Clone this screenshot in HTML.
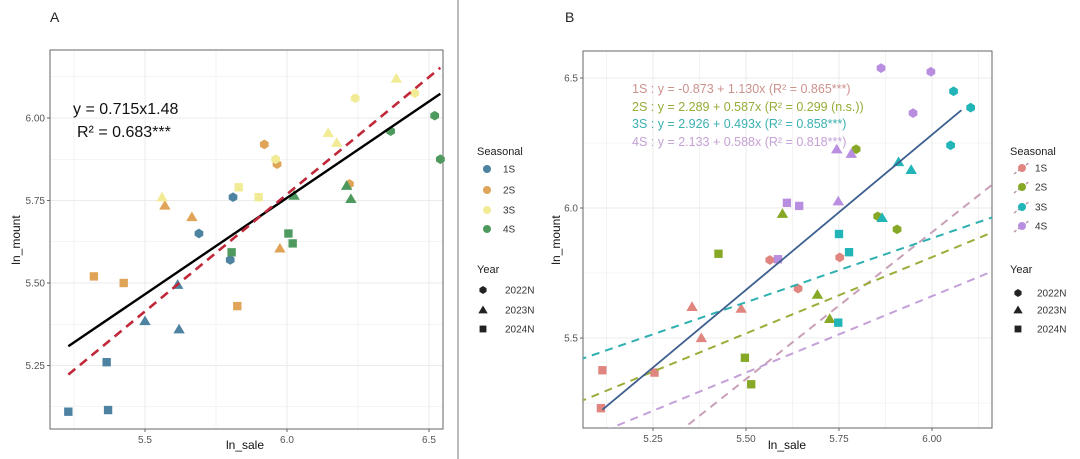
<!DOCTYPE html>
<html><head><meta charset="utf-8"><style>
html,body{margin:0;padding:0;background:#fff;overflow:hidden;width:1080px;height:459px;}
svg{display:block;font-family:"Liberation Sans",sans-serif;overflow:hidden;}
</style></head><body>
<svg id="fig" width="1080" height="459" viewBox="0 0 1080 459">
<rect width="1080" height="459" fill="#fff"/>
<line x1="458" y1="0" x2="458" y2="459" stroke="#777" stroke-width="1"/>
<text x="50" y="22" font-size="14" fill="#222">A</text>
<text x="565" y="22" font-size="14" fill="#222">B</text>
<g id="pa"></g>
<g id="pb"></g>
<text x="245" y="449" font-size="12" text-anchor="middle" fill="#111">ln_sale</text>
<text x="20" y="240" font-size="12" text-anchor="middle" fill="#111" transform="rotate(-90 20 240)">ln_mount</text>
<text x="787" y="449" font-size="12" text-anchor="middle" fill="#111">ln_sale</text>
<text x="560" y="240" font-size="12" text-anchor="middle" fill="#111" transform="rotate(-90 560 240)">ln_mount</text>
<text x="73" y="114" font-size="16" fill="#111">y = 0.715x1.48</text>
<text x="77" y="137" font-size="16" fill="#111">R² = 0.683***</text>
<g font-size="12.5">
<text x="632" y="93" fill="#cc928d">1S : y = -0.873 + 1.130x (R² = 0.865***)</text>
<text x="632" y="111" fill="#93ad36">2S : y = 2.289 + 0.587x (R² = 0.299 (n.s.))</text>
<text x="632" y="128" fill="#3ab0b0">3S : y = 2.926 + 0.493x (R² = 0.858***)</text>
<text x="632" y="146" fill="#c6a2d6">4S : y = 2.133 + 0.588x (R² = 0.818***)</text>
</g>
<g id="lega"></g>
<g id="legb"></g>
</svg>
<script>
const NS="http://www.w3.org/2000/svg";
const seasons=["1S","2S","3S","4S"];
const years=["2022N","2023N","2024N"];
const colorsA=["#4d82a0","#e0a459","#f2eb96","#4e9a5e"];
const colorsB=["#e08580","#86a826","#21b5b8","#b98de0"];
// Panel A data
const aXTicks=[5.5,6.0,6.5];
const aYTicks=[5.25,5.50,5.75,6.00];
const aYLabels=["5.25","5.50","5.75","6.00"];
const aSeason=[0,0,0,0,0,0,0,0,0, 1,1,1,1,1,1,1,1,1, 2,2,2,2,2,2,2,2,2, 3,3,3,3,3,3,3,3,3];
const aYear=[0,0,0,1,1,2,2,2,1, 0,0,0,1,1,1,2,2,2, 1,0,0,1,1,0,2,2,1, 0,0,0,1,1,1,2,2,2];
const aX=[5.81,5.69,5.80,5.50,5.62,5.365,5.23,5.37,5.615, 5.92,5.965,6.22,5.57,5.665,5.975,5.32,5.425,5.825, 6.385,6.45,6.24,6.145,6.175,5.96,5.83,5.90,5.56, 6.52,6.365,6.54,6.21,6.225,6.025,6.005,6.02,5.805];
const aY=[5.76,5.65,5.57,5.385,5.36,5.26,5.11,5.115,5.495, 5.92,5.86,5.80,5.735,5.70,5.605,5.52,5.50,5.43, 6.12,6.075,6.06,5.955,5.925,5.875,5.79,5.76,5.76, 6.007,5.96,5.875,5.795,5.755,5.765,5.65,5.62,5.593];
const aLineSolid=[2.254,0.584];
const aLineDash=[1.509,0.71];
const aLineRange=[5.23,6.54];
// Panel B data
const bXTicks=[5.25,5.50,5.75,6.00];
const bXLabels=["5.25","5.50","5.75","6.00"];
const bYTicks=[5.5,6.0,6.5];
const bSeason=[0,0,0,0,0,0,0,0,0, 1,1,1,1,1,1,1,1,1, 2,2,2,2,2,2,2,2,2, 3,3,3,3,3,3,3,3,3];
const bYear=[2,2,2,1,1,1,0,0,0, 2,2,2,1,1,1,0,0,0, 2,2,2,1,1,1,0,0,0, 2,2,2,1,1,1,0,0,0];
const bX=[5.114,5.11,5.254,5.355,5.38,5.487,5.564,5.64,5.752, 5.426,5.497,5.514,5.598,5.692,5.725,5.796,5.854,5.906, 5.75,5.777,5.748,5.866,5.91,5.944,6.058,6.104,6.05, 5.586,5.61,5.643,5.744,5.748,5.783,5.863,5.997,5.949];
const bY=[5.376,5.23,5.367,5.62,5.50,5.613,5.80,5.69,5.81, 5.824,5.424,5.322,5.978,5.667,5.574,6.226,5.968,5.918, 5.90,5.83,5.559,5.962,6.177,6.147,6.449,6.386,6.241, 5.803,6.02,6.008,6.226,6.026,6.209,6.538,6.524,6.365];
const bIntercepts=[-0.873,2.289,2.926,2.133];
const bSlopes=[1.130,0.587,0.493,0.588];
const bDashColors=["#c9a0b8","#9aae3a","#2fb0b0","#c4a0d8"];
const bLineSolid=[-0.882,1.194];
const bLineRange=[5.114,6.079];

function el(tag,attrs,parent){const e=document.createElementNS(NS,tag);for(const k in attrs)e.setAttribute(k,attrs[k]);parent.appendChild(e);return e;}
function marker(g,shape,cx,cy,col,s){
  let e;
  if(shape===0){const r=s*1.1;e=el("polygon",{points:`${cx},${cy-r} ${cx+r*0.9},${cy-r*0.45} ${cx+r*0.9},${cy+r*0.45} ${cx},${cy+r} ${cx-r*0.9},${cy+r*0.45} ${cx-r*0.9},${cy-r*0.45}`,fill:col},g);}
  else if(shape===1){e=el("polygon",{points:`${cx},${cy-s*1.25} ${cx-s*1.3},${cy+s*0.95} ${cx+s*1.3},${cy+s*0.95}`,fill:col},g);}
  else{e=el("rect",{x:cx-s*0.95,y:cy-s*0.95,width:s*1.9,height:s*1.9,fill:col},g);}
  return e;
}
function panel(g,L,R,T,B,xs,ys,xT,xL,yT,yL,name){
  el("rect",{x:L,y:T,width:R-L,height:B-T,fill:"#fff"},g);
  const gr=el("g",{},g);
  
  
  const dx=xT[1]-xT[0],dy=yT[1]-yT[0];
  for(let i=-1;i<=xT.length;i++){const v=xT[0]+dx*i, vm=v+dx/2;
    [v,vm].forEach((w,j)=>{const p=xs(w);if(p>L&&p<R)el("line",{x1:p,x2:p,y1:T,y2:B,stroke:"#ebebeb","stroke-width":j?0.6:1},gr);});}
  for(let i=-1;i<=yT.length;i++){const v=yT[0]+dy*i, vm=v+dy/2;
    [v,vm].forEach((w,j)=>{const p=ys(w);if(p>T&&p<B)el("line",{x1:L,x2:R,y1:p,y2:p,stroke:"#ebebeb","stroke-width":j?0.6:1},gr);});}
  el("rect",{x:L,y:T,width:R-L,height:B-T,fill:"none",stroke:"#666","stroke-width":1},g);
  xT.forEach((v,i)=>{const t=el("text",{x:xs(v),y:B+14,"font-size":10,"text-anchor":"middle",fill:"#555"},g);t.textContent=xL[i];
    
    
    el("line",{x1:xs(v),x2:xs(v),y1:B,y2:B+3,stroke:"#666"},g);});
  yT.forEach((v,i)=>{const t=el("text",{x:L-5,y:ys(v)+3.5,"font-size":10,"text-anchor":"end",fill:"#555"},g);t.textContent=yL[i];
    
    
    el("line",{x1:L-3,x2:L,y1:ys(v),y2:ys(v),stroke:"#666"},g);});
}
// Panel A
(function(){
  const g=document.getElementById("pa");
  const L=50,R=443,T=50,B=429;
  const xs=v=>145+(v-5.5)*284, ys=v=>118-(v-6.0)*330;
  panel(g,L,R,T,B,xs,ys,aXTicks,aXTicks.map(v=>v.toFixed(1)),aYTicks,aYLabels,"panel-a");
  const pts=el("g",{},g);
  for(let i=0;i<aX.length;i++){const m=marker(pts,aYear[i],xs(aX[i]),ys(aY[i]),colorsA[aSeason[i]],4.4);
    
    }
  const f=(c,x)=>c[0]+c[1]*x;
  const l1=el("line",{x1:xs(aLineRange[0]),y1:ys(f(aLineSolid,aLineRange[0])),x2:xs(aLineRange[1]),y2:ys(f(aLineSolid,aLineRange[1])),stroke:"#000","stroke-width":2.4},g);
  
  
  const l2=el("line",{x1:xs(aLineRange[0]),y1:ys(f(aLineDash,aLineRange[0])),x2:xs(aLineRange[1]),y2:ys(f(aLineDash,aLineRange[1])),stroke:"#c0283a","stroke-width":2.6,"stroke-dasharray":"9,6"},g);
  
  
})();
// Panel B
(function(){
  const g=document.getElementById("pb");
  const L=583,R=992,T=51,B=428;
  const xs=v=>653+(v-5.25)*372, ys=v=>208-(v-6.0)*260;
  panel(g,L,R,T,B,xs,ys,bXTicks,bXLabels,bYTicks,bYTicks.map(v=>v.toFixed(1)),"panel-b");
  const cp=el("clipPath",{id:"cb"},g);el("rect",{x:L,y:T,width:R-L,height:B-T},cp);
  const pts=el("g",{},g);
  for(let i=0;i<bX.length;i++){const m=marker(pts,bYear[i],xs(bX[i]),ys(bY[i]),colorsB[bSeason[i]],4.4);
    
    }
  const lg=el("g",{"clip-path":"url(#cb)"},g);
  const x0=5.05,x1=6.17;
  for(let s=0;s<4;s++){const f=x=>bIntercepts[s]+bSlopes[s]*x;
    const l=el("line",{x1:xs(x0),y1:ys(f(x0)),x2:xs(x1),y2:ys(f(x1)),stroke:bDashColors[s],"stroke-width":2,"stroke-dasharray":"8,6"},lg);
    
    }
  const f=x=>bLineSolid[0]+bLineSolid[1]*x;
  const ls=el("line",{x1:xs(bLineRange[0]),y1:ys(f(bLineRange[0])),x2:xs(bLineRange[1]),y2:ys(f(bLineRange[1])),stroke:"#3f5f8f","stroke-width":1.8},lg);
  
  
})();
// Legends
function legend(g,x,keyX,labX,seaYs,yrYs,cols,withLine){
  let t=el("text",{x:x,y:155,"font-size":11,fill:"#222"},g);t.textContent="Seasonal";
  seasons.forEach((s,i)=>{
    if(withLine){el("line",{x1:keyX-8,y1:seaYs[i]+6,x2:keyX+8,y2:seaYs[i]-6,stroke:"#b89aa8","stroke-width":1.5,"stroke-dasharray":"3,2"},g);}
    const c=el("circle",{cx:keyX,cy:seaYs[i],r:4,fill:cols[i]},g);
    
    
    const l=el("text",{x:labX,y:seaYs[i]+3.5,"font-size":10,fill:"#333"},g);l.textContent=s;
    
    });
  t=el("text",{x:x,y:273,"font-size":11,fill:"#222"},g);t.textContent="Year";
  years.forEach((y,i)=>{const m=marker(g,i,keyX-4,yrYs[i],"#222",3.6);
    
    
    const l=el("text",{x:labX+2,y:yrYs[i]+3.5,"font-size":10,fill:"#333"},g);l.textContent=y;
    
    });
}
legend(document.getElementById("lega"),477,487,503,[169,190,210,229],[290,310,329],colorsA,false);
legend(document.getElementById("legb"),1010,1022,1035,[168,187,207,226],[293,310,329],colorsB,true);
</script>
</body></html>
